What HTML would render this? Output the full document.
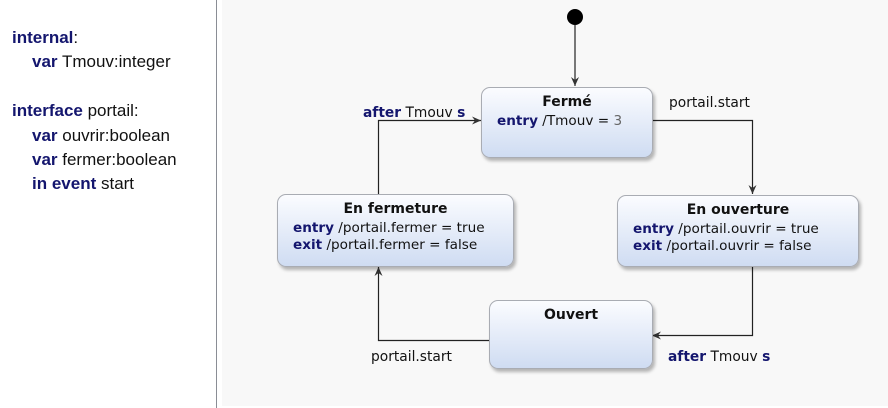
<!DOCTYPE html>
<html><head><meta charset="utf-8"><style>
body{margin:0;width:888px;height:408px;background:#fff;position:relative;overflow:hidden;font-family:"DejaVu Sans",sans-serif}
.left{position:absolute;left:12px;top:26px;font-family:"Liberation Sans",sans-serif;font-size:17px;line-height:24.4px;color:#111}
.k{color:#14166e;font-weight:bold}
.div{position:absolute;left:216px;top:0;width:1px;height:408px;background:#8a8d95}
.bg{position:absolute;left:222px;top:0;width:666px;height:406px;background:#f8f8f8}
.st{position:absolute;border:1px solid #a9acb3;border-radius:9px;background:linear-gradient(#fbfcff,#cfdcf2);box-shadow:2px 3px 3px rgba(0,0,0,.28);font-size:13.6px;color:#111}
.st .t{font-weight:bold;text-align:center;margin-top:6px;font-size:14px}
.st .b{margin-left:15px;margin-top:3px;line-height:17px}
.kb{color:#14166e;font-weight:bold}
.lbl{position:absolute;font-size:13.8px;color:#111}
</style></head><body>
<div class="left">
<div><span class="k">internal</span>:</div>
<div style="padding-left:20px"><span class="k">var</span> Tmouv:integer</div>
<div>&nbsp;</div>
<div><span class="k">interface</span> portail:</div>
<div style="padding-left:20px"><span class="k">var</span> ouvrir:boolean</div>
<div style="padding-left:20px"><span class="k">var</span> fermer:boolean</div>
<div style="padding-left:20px"><span class="k">in event</span> start</div>
</div>
<div class="div"></div>
<div class="bg"></div>
<svg style="position:absolute;left:0;top:0" width="888" height="408">
<defs><marker id="a" markerWidth="10" markerHeight="10" refX="9" refY="5" orient="auto" markerUnits="userSpaceOnUse"><path d="M0,1 L9,5 L0,9 L3,5z" fill="#333"/></marker></defs>
<circle cx="575" cy="17" r="8" fill="#000"/>
<g stroke="#222" stroke-width="1.2" fill="none" marker-end="url(#a)">
<path d="M575,25 V86"/>
<path d="M652,120.5 H752.5 V194"/>
<path d="M752.5,266 V335.5 H652"/>
<path d="M490,340.5 H378.5 V267"/>
<path d="M378.5,194 V120.5 H481"/>
</g>
</svg>
<div class="st" style="left:481px;top:87px;width:170px;height:69px"><div class="t">Fermé</div><div class="b"><span class="kb">entry</span> /Tmouv = <span style="color:#666">3</span></div></div>
<div class="st" style="left:277px;top:194px;width:235px;height:71px"><div class="t">En fermeture</div><div class="b"><span class="kb">entry</span> /portail.fermer = true<br><span class="kb">exit</span> /portail.fermer = false</div></div>
<div class="st" style="left:617px;top:195px;width:240px;height:70px"><div class="t">En ouverture</div><div class="b"><span class="kb">entry</span> /portail.ouvrir = true<br><span class="kb">exit</span> /portail.ouvrir = false</div></div>
<div class="st" style="left:489px;top:300px;width:162px;height:67px"><div class="t">Ouvert</div></div>
<div class="lbl" style="left:669px;top:95px">portail.start</div>
<div class="lbl" style="left:363px;top:105px"><span class="kb">after</span> Tmouv <span class="kb">s</span></div>
<div class="lbl" style="left:371px;top:349px">portail.start</div>
<div class="lbl" style="left:668px;top:349px"><span class="kb">after</span> Tmouv <span class="kb">s</span></div>
</body></html>
